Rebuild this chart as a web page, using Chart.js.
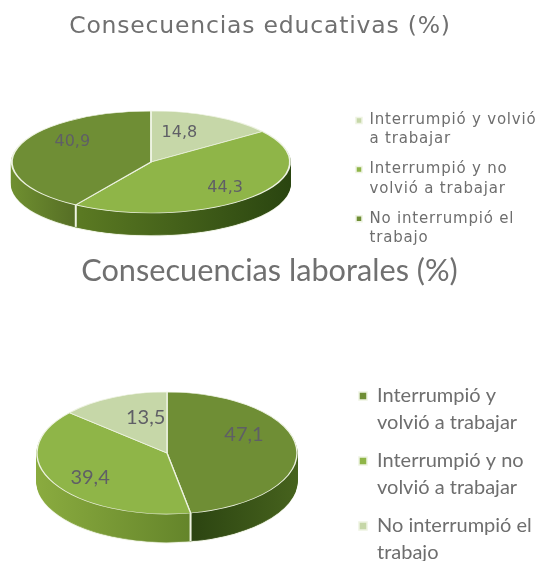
<!DOCTYPE html>
<html>
<head>
<meta charset="utf-8">
<script src="https://cdn.jsdelivr.net/npm/chart.js@4"></script>
<style>
  html, body { margin: 0; padding: 0; background: #fff; }
  #wrap { position: relative; width: 539px; height: 561px; overflow: hidden; }
  canvas { position: absolute; left: 0; }
  #c1 { top: 0; }
  #c2 { top: 250px; }
</style>
</head>
<body>
<div id="wrap">
  <canvas id="c1"></canvas>
  <canvas id="c2"></canvas>
</div>
<script>
const topLabels = [['Interrumpió y volvió', 'a trabajar'], ['Interrumpió y no', 'volvió a trabajar'], ['No interrumpió el', 'trabajo']];
const topValues = [14.8, 44.3, 40.9];
const topColors = ['#c6d7a8', '#8fb548', '#6f8e35'];
const topSides = [['#a5b88a', '#8aa06a'], ['#6a8a28', '#2a4510'], ['#6f8f30', '#000000']];

const bottomLabels = [['Interrumpió y', 'volvió a trabajar'], ['Interrumpió y no', 'volvió a trabajar'], ['No interrumpió el', 'trabajo']];
const bottomValues = [47.1, 39.4, 13.5];
const bottomColors = ['#6f8e35', '#8fb548', '#c6d7a8'];
const bottomSides = [['#061a00', '#46621d'], ['#8aab3f', '#4a6a1c'], ['#a5b88a', '#8aa06a']];

// put title and legend where the picture has them
const placePlugin = {
  id: 'place',
  afterLayout(chart, args, opts) {
    const title = chart.titleBlock;
    const half = title.width / 2;
    title.left = opts.titleX - half;
    title.right = opts.titleX + half;
    title.top = opts.titleTop;
    const legend = chart.legend;
    legend.left = opts.legendX - legend.options.labels.padding;
    legend.right = chart.width;
    legend.top = opts.legendTop;
    legend.bottom = chart.height + 100;
  },
  beforeDraw(chart, args, opts) {
    chart.ctx.letterSpacing = opts.spacing;
  }
};

// squash the pie and stack copies below it for the 3d look
const tiltPlugin = {
  id: 'tilt',
  beforeDatasetsDraw(chart, args, opts) {
    const ctx = chart.ctx;
    const meta = chart.getDatasetMeta(0);
    const first = meta.data[0];
    const cx = first.x, cy = first.y, R = first.outerRadius;
    const sx = opts.rx / R, sy = opts.ry / R;
    const faces = meta.data.map(a => a.options.backgroundColor);
    const edge = chart.data.datasets[0].borderColor;
    ctx.save();
    ctx.translate(opts.cx, opts.cy);
    ctx.scale(sx, sy);
    ctx.translate(-cx, -cy);
    const fills = opts.sides.map(pair => {
      const g = ctx.createLinearGradient(cx - R, 0, cx + R, 0);
      g.addColorStop(0, pair[0]);
      g.addColorStop(1, pair[1]);
      return g;
    });
    for (let d = opts.depth + 1; d > 0; d--) {
      ctx.save();
      ctx.translate(0, d / sy);
      meta.data.forEach((a, i) => {
        const c = d > opts.depth ? edge : fills[i];
        a.options.backgroundColor = c;
        a.options.borderColor = c;
        a.draw(ctx);
      });
      ctx.restore();
    }
    // seams on the front wall
    ctx.strokeStyle = edge;
    ctx.lineWidth = 2 / sx;
    meta.data.forEach(a => {
      if (Math.sin(a.endAngle) > 0) {
        const x = cx + Math.cos(a.endAngle) * R;
        const y = cy + Math.sin(a.endAngle) * R;
        ctx.beginPath();
        ctx.moveTo(x, y);
        ctx.lineTo(x, y + opts.depth / sy);
        ctx.stroke();
      }
    });
    meta.data.forEach((a, i) => {
      a.options.backgroundColor = faces[i];
      a.options.borderColor = edge;
    });
  },
  afterDatasetsDraw(chart) {
    chart.ctx.restore();
  }
};

// values on the slices
const valuePlugin = {
  id: 'values',
  afterDraw(chart, args, opts) {
    const ctx = chart.ctx;
    const meta = chart.getDatasetMeta(0);
    const values = chart.data.datasets[0].data;
    const tilt = chart.options.plugins.tilt;
    ctx.save();
    ctx.letterSpacing = '0px';
    ctx.font = opts.font;
    ctx.fillStyle = '#5f5f66';
    ctx.textAlign = 'center';
    ctx.textBaseline = 'middle';
    meta.data.forEach((a, i) => {
      const mid = (a.startAngle + a.endAngle) / 2;
      const x = tilt.cx + Math.cos(mid) * tilt.rx * 0.68 + opts.shift[i][0];
      const y = tilt.cy + Math.sin(mid) * tilt.ry * 0.68 + opts.shift[i][1];
      ctx.fillText(values[i].toFixed(1).replace('.', ','), x, y);
    });
    ctx.restore();
  }
};

function makePie(id, h, labels, values, colors, sides, cfg) {
  const canvas = document.getElementById(id);
  canvas.width = 539;
  canvas.height = h;
  canvas.style.width = '539px';
  canvas.style.height = h + 'px';
  return new Chart(canvas, {
    type: 'pie',
    data: {
      labels: labels,
      datasets: [{
        data: values,
        backgroundColor: colors,
        borderColor: '#eef3e2',
        borderWidth: 1.5
      }]
    },
    options: {
      responsive: false,
      animation: false,
      plugins: {
        title: {
          display: true,
          text: cfg.title,
          color: '#707070',
          font: { family: cfg.family, size: cfg.titleSize, weight: 'normal' },
          padding: 0
        },
        legend: {
          position: 'right',
          align: 'start',
          labels: {
            color: '#6e6e6e',
            font: { family: cfg.family, size: cfg.legendSize, lineHeight: cfg.legendLine },
            boxWidth: cfg.box,
            boxHeight: cfg.box,
            padding: 11
          }
        },
        tooltip: { enabled: false },
        place: cfg.place,
        tilt: cfg.tilt,
        values: cfg.values
      }
    },
    plugins: [placePlugin, tiltPlugin, valuePlugin]
  });
}

window.onload = function() {
  makePie('c1', 250, topLabels, topValues, topColors, topSides, {
    title: 'Consecuencias educativas (%)',
    family: 'DejaVu Sans', titleSize: 23.5,
    legendSize: 15, legendLine: 1.27, box: 6,
    place: { titleX: 260, titleTop: 13, legendX: 356, legendTop: 102, spacing: '0.8px' },
    tilt: { cx: 151, cy: 162, rx: 139, ry: 51, depth: 22, sides: topSides },
    values: { font: '16px DejaVu Sans', shift: [[-14, 2], [5, 2], [12, -10]] }
  });
  makePie('c2', 311, bottomLabels, bottomValues, bottomColors, bottomSides, {
    title: 'Consecuencias laborales (%)',
    family: 'Lato', titleSize: 30.7,
    legendSize: 20, legendLine: 1.35, box: 8,
    place: { titleX: 269.5, titleTop: 3, legendX: 359, legendTop: 125, spacing: '0px' },
    tilt: { cx: 167, cy: 203, rx: 130, ry: 61, depth: 28, sides: bottomSides },
    values: { font: '20px Lato', shift: [[-11, -15], [0, 4], [15, 2]] }
  });
};
</script>
</body>
</html>
